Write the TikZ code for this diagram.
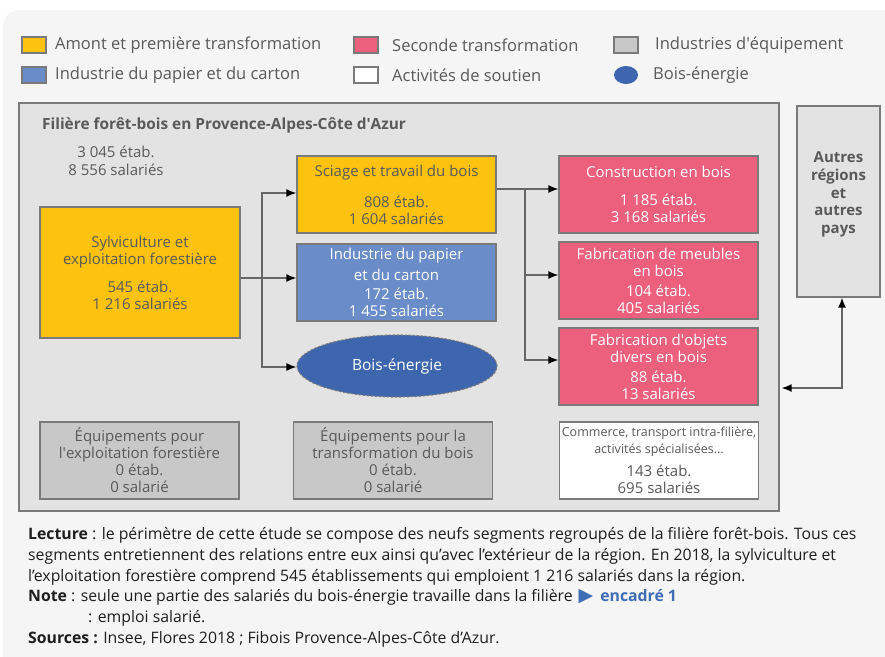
\documentclass[tikz,border=0pt]{standalone}
\usepackage{fontspec}
\setmainfont{Open Sans}
\newfontfamily\symfont{DejaVu Sans}
\newcommand{\myapos}{\textquotesingle}
\usetikzlibrary{arrows.meta,shapes.geometric}
\definecolor{pagebg}{HTML}{F5F5F5}
\definecolor{framefill}{HTML}{E3E3E3}
\definecolor{edge}{HTML}{7A7A7A}
\definecolor{txtgray}{HTML}{595959}
\definecolor{amont}{HTML}{FCC210}
\definecolor{seconde}{HTML}{EC607E}
\definecolor{papier}{HTML}{6A8CC8}
\definecolor{energie}{HTML}{3D66AE}
\definecolor{equip}{HTML}{C8C8C8}
\definecolor{link}{HTML}{3D6DB5}
\definecolor{conn}{HTML}{666666}
\definecolor{bodytxt}{HTML}{1E1E1E}
\begin{document}
\begin{tikzpicture}[x=1pt,y=-1pt,
  box/.style={draw=edge, line width=1.3pt, align=center, inner sep=0pt, text=txtgray,
    font=\fontsize{15}{17}\selectfont},
  legsq/.style={draw=edge, line width=1.2pt, minimum width=24, minimum height=16, inner sep=0},
  legtxt/.style={anchor=west, text=txtgray, font=\fontsize{16.5}{18}\selectfont, inner sep=0},
  bodyline/.style={anchor=base west, text=bodytxt, font=\fontsize{15.8}{18}\selectfont, inner sep=0},
  arr/.style={draw=conn, line width=1.5pt, -{Latex[length=10pt,width=8pt,color=black]}},
  dbl/.style={draw=conn, line width=1.5pt, {Latex[length=10pt,width=8pt,color=black]}-{Latex[length=10pt,width=8pt,color=black]}}
]
\useasboundingbox (0,0) rectangle (885,656);
\fill[white] (0,0) rectangle (885,656);
\fill[pagebg, rounded corners=16pt] (3,10) rectangle (920,700);

% legend
\node[legsq, fill=amont] (l1) at (34,45) {};
\node[legtxt] (l1t) at (55,45) {Amont et première transformation};
\node[legsq, fill=seconde] (l2) at (366,45) {};
\node[legtxt] (l2t) at (392,45) {Seconde transformation};
\node[legsq, fill=equip] (l3) at (626,45) {};
\node[legtxt] (l3t) at (655,45) {Industries d\myapos équipement};
\node[legsq, fill=papier] (l4) at (34,75) {};
\node[legtxt] (l4t) at (55,75) {Industrie du papier et du carton};
\node[legsq, fill=white] (l5) at (366,75) {};
\node[legtxt] (l5t) at (392,75) {Activités de soutien};
\node[ellipse, fill=energie, minimum width=24, minimum height=18, inner sep=0] (l6) at (626,75) {};
\node[legtxt] (l6t) at (653,75) {Bois-énergie};

% frame
\node[draw=edge, fill=framefill, line width=1.3pt, minimum width=760, minimum height=408, inner sep=0] (frame) at (399,307) {};
\node[anchor=west, inner sep=0, text=txtgray, font=\bfseries\fontsize{15.4}{17}\selectfont] (title) at (42,125) {Filière forêt-bois en Provence-Alpes-Côte d\myapos Azur};
\node[align=center, inner sep=0, text=txtgray, font=\fontsize{15}{17.5}\selectfont] (total) at (116,161) {3 045 étab.\\8 556 salariés};

% boxes
\node[box, fill=amont, minimum width=200, minimum height=131] (sylvi) at (140,272.5)
  {Sylviculture et\\exploitation forestière\\[11pt]545 étab.\\1 216 salariés};
\node[box, fill=amont, minimum width=199, minimum height=77] (sciage) at (396.5,194.5)
  {Sciage et travail du bois\\[14pt]808 étab.\\1 604 salariés};
\node[box, fill=papier, text=white, minimum width=199, minimum height=77] (pap) at (396.5,282.5)
  {Industrie du papier\\[4pt]et du carton\\[2pt]172 étab.\\1 455 salariés};
\node[ellipse, draw=edge, dash pattern=on 2.5pt off 1.5pt, line width=1.1pt, fill=energie, text=white, minimum width=200, minimum height=62, inner sep=0,
  font=\fontsize{15.5}{17}\selectfont] (bois) at (397,366) {Bois-énergie};

\node[box, fill=seconde, text=white, minimum width=199, minimum height=77] (constr) at (658.5,194.5)
  {Construction en bois\\[11pt]1 185 étab.\\3 168 salariés};
\node[box, fill=seconde, text=white, minimum width=199, minimum height=77] (meubles) at (658.5,280.5)
  {Fabrication de meubles\\en bois\\[3pt]104 étab.\\405 salariés};
\node[box, fill=seconde, text=white, minimum width=199, minimum height=77] (objets) at (658.5,366.5)
  {Fabrication d\myapos objets\\divers en bois\\[3pt]88 étab.\\13 salariés};

\node[box, fill=equip, minimum width=199, minimum height=77] (eq1) at (139.5,460.5)
  {Équipements pour\\l\myapos exploitation forestière\\0 étab.\\0 salarié};
\node[box, fill=equip, minimum width=199, minimum height=77] (eq2) at (393,460.5)
  {Équipements pour la\\transformation du bois\\0 étab.\\0 salarié};
\node[box, fill=white, minimum width=199, minimum height=77] (comm) at (659,460.5)
  {{\fontsize{12.5}{14}\selectfont Commerce, transport intra-filière,}\\{\fontsize{12.5}{14}\selectfont activités spécialisées...}\\[6pt]143 étab.\\695 salariés};

\node[draw=edge, fill=framefill, line width=1.3pt, minimum width=83, minimum height=191, inner sep=0] (autres) at (838.5,201.5) {};
\node[align=center, inner sep=0, text=txtgray, font=\bfseries\fontsize{15}{17.7}\selectfont] (autrest) at (838.5,194.5)
  {Autres\\régions\\et\\autres\\pays};

% connectors
\coordinate (j1) at (262,278);
\draw[arr] (sylvi.east |- j1) -- (pap.west |- j1);
\draw[arr] (j1) -- (262,193) -- (sciage.west |- 0,193);
\draw[arr] (j1) -- (262,367) -- (bois.west |- 0,367);
\coordinate (j2) at (525,189);
\coordinate (j3) at (525,275);
\coordinate (j4) at (525,360);
\draw[arr] (sciage.east |- j2) -- (constr.west |- j2);
\draw[arr] (j2) -- (j3) -- (meubles.west |- j3);
\draw[arr] (j3) -- (j4) -- (objets.west |- j4);
\coordinate (c) at (842,388);
\draw[dbl, shorten <=2pt] (frame.east |- c) -- (c) -- (autres.south -| c);

% notes
\node[bodyline] (n1) at (28,539) {\textbf{Lecture} : le périmètre de cette étude se compose des neufs segments regroupés de la filière forêt-bois. Tous ces};
\node[bodyline] (n2) at (28,560) {segments entretiennent des relations entre eux ainsi qu’avec l’extérieur de la région. En 2018, la sylviculture et};
\node[bodyline] (n3) at (28,581) {l’exploitation forestière comprend 545 établissements qui emploient 1 216 salariés dans la région.};
\node[bodyline] (n4) at (28,601) {\textbf{Note} : seule une partie des salariés du bois-énergie travaille dans la filière\hspace{6pt}\textcolor{link}{{\symfont\fontsize{19}{18}\selectfont ▶}\hspace{7pt}\textbf{encadré 1}}};
\node[bodyline] (n5) at (88,622) {: emploi salarié.};
\node[bodyline] (n6) at (28,643) {\textbf{Sources :} Insee, Flores 2018 ; Fibois Provence-Alpes-Côte d’Azur.};
\end{tikzpicture}
\end{document}
